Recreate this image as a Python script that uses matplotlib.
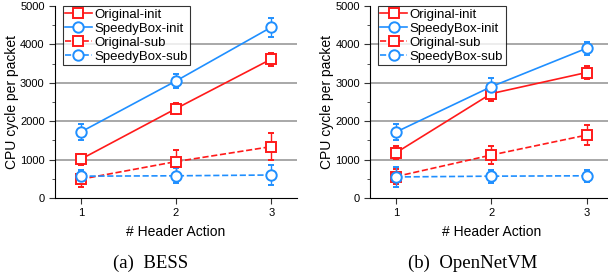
import matplotlib.pyplot as plt
import numpy as np

plt.rcParams['font.family'] = ['Liberation Sans', 'DejaVu Sans']

actions = [1, 2, 3]

# BESS
bess_orig_init = [1010, 2330, 3620]
bess_orig_init_err = [150, 150, 170]
bess_speedy_init = [1720, 3050, 4450]
bess_speedy_init_err = [200, 180, 250]
bess_orig_sub = [490, 950, 1340]
bess_orig_sub_err = [200, 300, 350]
bess_speedy_sub = [570, 580, 600]
bess_speedy_sub_err = [150, 200, 250]

# OpenNetVM
onvm_orig_init = [1180, 2720, 3270]
onvm_orig_init_err = [170, 200, 170]
onvm_speedy_init = [1720, 2900, 3900]
onvm_speedy_init_err = [220, 230, 170]
onvm_orig_sub = [560, 1120, 1640]
onvm_orig_sub_err = [200, 240, 260]
onvm_speedy_sub = [550, 570, 580]
onvm_speedy_sub_err = [250, 170, 150]

RED = '#ff1a1a'
BLUE = '#1f8fff'

fig = plt.figure(figsize=(6.08, 2.77), dpi=100)
ax1 = fig.add_axes([0.0905, 0.285, 0.398, 0.693])
ax2 = fig.add_axes([0.609, 0.285, 0.398, 0.693])


def draw(ax, oi, oie, si, sie, os_, ose, ss, sse):
    series = [
        (oi, oie, RED, 's', '-', 'Original-init'),
        (si, sie, BLUE, 'o', '-', 'SpeedyBox-init'),
        (os_, ose, RED, 's', '--', 'Original-sub'),
        (ss, sse, BLUE, 'o', '--', 'SpeedyBox-sub'),
    ]
    for y, e, c, m, ls, lab in series:
        ax.errorbar(actions, y, yerr=e, color=c, marker=m, ls=ls, lw=1.2,
                     markersize=7.5 if m == 'o' else 7, markerfacecolor='white',
                     markeredgewidth=1.4, capsize=2.5, elinewidth=1.0,
                     capthick=1.0, label=lab, zorder=3)
    ax.set_xlim(0.73, 3.27)
    ax.set_ylim(0, 5000)
    ax.set_xticks(actions)
    ax.set_yticks([0, 1000, 2000, 3000, 4000, 5000])
    ax.set_yticks([500, 1500, 2500, 3500, 4500], minor=True)
    for v in [1000, 2000, 3000, 4000]:
        ax.axhline(v, color='#999999', lw=1.2, zorder=0)
    ax.spines['top'].set_visible(False)
    ax.spines['right'].set_visible(False)
    ax.tick_params(axis='both', which='major', labelsize=8, length=4,
                   direction='out', color='#333333')
    ax.tick_params(axis='y', which='minor', length=2.5, color='#333333')
    ax.set_xlabel('# Header Action', fontsize=10, labelpad=5)
    ax.set_ylabel('CPU cycle per packet', fontsize=10, labelpad=1)
    handles, labels = ax.get_legend_handles_labels()
    handles = [h[0] for h in handles]
    leg = ax.legend(handles, labels, loc='upper left', fontsize=9.5,
                    frameon=True, fancybox=False, edgecolor='black',
                    handlelength=2.0, handletextpad=0.2, labelspacing=0.12,
                    borderpad=0.2, borderaxespad=0.3,
                    bbox_to_anchor=(0.015, 1.02))
    leg.get_frame().set_linewidth(0.8)
    leg.set_zorder(5)


draw(ax1, bess_orig_init, bess_orig_init_err, bess_speedy_init, bess_speedy_init_err,
     bess_orig_sub, bess_orig_sub_err, bess_speedy_sub, bess_speedy_sub_err)
draw(ax2, onvm_orig_init, onvm_orig_init_err, onvm_speedy_init, onvm_speedy_init_err,
     onvm_orig_sub, onvm_orig_sub_err, onvm_speedy_sub, onvm_speedy_sub_err)

fig.text(151 / 608, 0.05, '(a)  BESS', ha='center', va='center', fontsize=13.5,
         family=['Liberation Serif', 'DejaVu Serif'])
fig.text(473 / 608, 0.05, '(b)  OpenNetVM', ha='center', va='center', fontsize=13.5,
         family=['Liberation Serif', 'DejaVu Serif'])

fig.savefig('out.png', dpi=100)
